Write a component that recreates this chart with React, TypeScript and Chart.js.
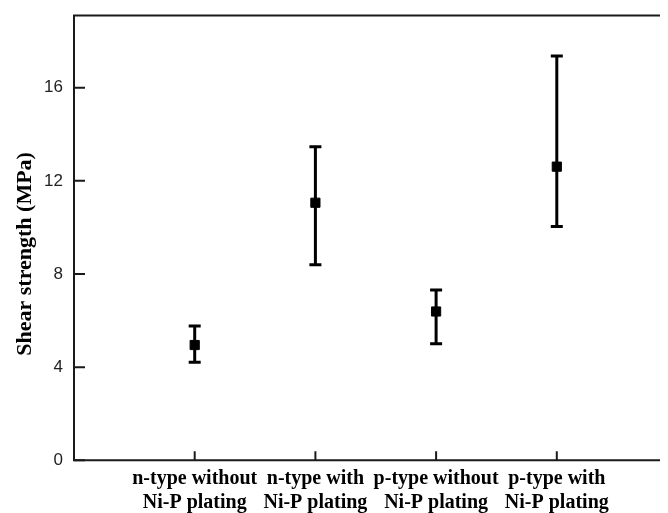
import React, { useEffect, useRef } from "react";
import { Chart, registerables } from "chart.js";

Chart.register(...registerables);

const categories: string[][] = [
  ["n-type without", "Ni-P plating"],
  ["n-type with", "Ni-P plating"],
  ["p-type without", "Ni-P plating"],
  ["p-type with", "Ni-P plating"],
];
const means = [4.95, 11.06, 6.39, 12.61];
const upper = [5.77, 13.46, 7.31, 17.36];
const lower = [4.21, 8.4, 5.0, 10.04];
const yTicks = [0, 4, 8, 12, 16];
const xPositions = [1, 2, 3, 4];
const yTitle = "Shear strength (MPa)";

const INK = "#1a1a1a";

const framePlugin = {
  id: "frameAndErrors",
  afterDatasetsDraw(chart: any) {
    const { ctx, chartArea, scales } = chart;
    const xs = scales.x;
    const ys = scales.y;
    ctx.save();
    // error bars
    ctx.strokeStyle = "#000";
    ctx.lineWidth = 3;
    ctx.lineCap = "butt";
    for (let i = 0; i < means.length; i++) {
      const px = xs.getPixelForValue(xPositions[i]);
      const pHi = ys.getPixelForValue(upper[i]);
      const pLo = ys.getPixelForValue(lower[i]);
      ctx.beginPath();
      ctx.moveTo(px, pHi);
      ctx.lineTo(px, pLo);
      ctx.moveTo(px - 6, pHi);
      ctx.lineTo(px + 6, pHi);
      ctx.moveTo(px - 6, pLo);
      ctx.lineTo(px + 6, pLo);
      ctx.stroke();
    }
    // frame
    ctx.strokeStyle = INK;
    ctx.lineWidth = 2;
    ctx.beginPath();
    ctx.moveTo(chartArea.right + 30, chartArea.top);
    ctx.lineTo(chartArea.left, chartArea.top);
    ctx.lineTo(chartArea.left, chartArea.bottom);
    ctx.lineTo(chartArea.right + 30, chartArea.bottom);
    ctx.stroke();
    // inward ticks
    ctx.beginPath();
    for (const v of yTicks) {
      const py = ys.getPixelForValue(v);
      ctx.moveTo(chartArea.left, py);
      ctx.lineTo(chartArea.left + 11, py);
    }
    for (const v of xPositions) {
      const px = xs.getPixelForValue(v);
      ctx.moveTo(px, chartArea.bottom);
      ctx.lineTo(px, chartArea.bottom - 9);
    }
    ctx.stroke();
    // y-axis title
    ctx.fillStyle = "#000";
    ctx.font = "bold 22px 'Liberation Serif', 'Times New Roman', serif";
    ctx.textAlign = "center";
    ctx.textBaseline = "middle";
    ctx.translate(17, (chartArea.top + chartArea.bottom) / 2 + 16);
    ctx.rotate(-Math.PI / 2);
    ctx.fillText(yTitle, 0, 0);
    ctx.restore();
  },
};

export default function App() {
  const ref = useRef<HTMLCanvasElement | null>(null);
  useEffect(() => {
    if (!ref.current) return;
    const chart = new Chart(ref.current, {
      type: "scatter",
      data: {
        datasets: [
          {
            data: means.map((m, i) => ({ x: xPositions[i], y: m })),
            pointStyle: "rect",
            pointRadius: 6.5,
            backgroundColor: "#000",
            borderColor: "#000",
            borderWidth: 1,
            showLine: false,
          },
        ],
      },
      options: {
        animation: false,
        responsive: false,
        events: [],
        layout: { padding: { top: 6.7, right: 20.5, left: 0, bottom: 0 } },
        plugins: { legend: { display: false }, tooltip: { enabled: false } },
        scales: {
          x: {
            type: "linear",
            min: 0,
            max: 5,
            afterBuildTicks: (scale: any) => {
              scale.ticks = xPositions.map((v) => ({ value: v }));
            },
            afterFit: (scale: any) => {
              scale.height = 52.7;
              scale.paddingLeft = 0;
              scale.paddingRight = 0;
            },
            grid: { display: true, drawOnChartArea: false, drawTicks: false },
            border: { display: false },
            ticks: {
              padding: 7,
              color: "#000",
              maxRotation: 0,
              autoSkip: false,
              font: { family: "'Liberation Serif', 'Times New Roman', serif", size: 20, weight: "bold" },
              callback: (v: any) => {
                const i = xPositions.indexOf(Number(v));
                return i >= 0 ? categories[i] : "";
              },
            },
          },
          y: {
            type: "linear",
            min: 0,
            max: 19.1,
            afterBuildTicks: (scale: any) => {
              scale.ticks = yTicks.map((v) => ({ value: v }));
            },
            afterFit: (scale: any) => {
              scale.width = 66;
              scale.paddingTop = 0;
              scale.paddingBottom = 0;
            },
            grid: { display: true, drawOnChartArea: false, drawTicks: false },
            border: { display: false },
            ticks: {
              padding: 11,
              color: "#222",
              font: { family: "'Liberation Sans', Arial, sans-serif", size: 17 },
            },
          },
        },
      },
      plugins: [framePlugin],
    } as any);
    return () => chart.destroy();
  }, []);
  return (
    <div style={{ width: 660, height: 505, overflow: "hidden" }}>
      <canvas ref={ref} width={690} height={505} style={{ display: "block" }} />
    </div>
  );
}
